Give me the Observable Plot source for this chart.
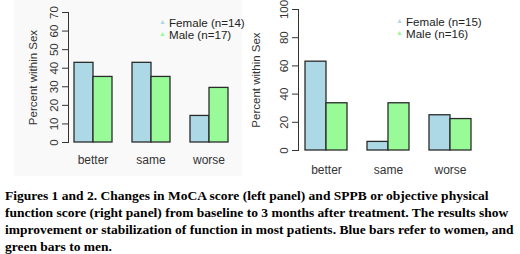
<!DOCTYPE html>
<html>
<head>
<meta charset="utf-8">
<script src="https://cdn.jsdelivr.net/npm/d3@7"></script>
<script src="https://cdn.jsdelivr.net/npm/@observablehq/plot@0.6"></script>
<style>
  html, body { margin: 0; padding: 0; background: #fff; }
  #wrap { position: relative; width: 520px; height: 254px; overflow: hidden; background: #fff; }
  #left { position: absolute; left: 0; top: 0; }
  #right { position: absolute; left: 250px; top: 0; }
  #leftbg { position: absolute; left: 14px; top: 0; width: 228px; height: 176px; background: #f9f9f9; }
  .leg { position: absolute; font-family: "Liberation Sans", Arial, sans-serif; font-size: 11.6px; color: #222; line-height: 11px; white-space: nowrap; }
  .tri { position: absolute; font-size: 7px; line-height: 7px; }
  #caption { position: absolute; left: 5px; top: 187px; width: 515px; font-family: "Liberation Serif", "Times New Roman", serif; font-weight: bold; font-size: 13.5px; line-height: 17px; color: #000; white-space: nowrap; }
</style>
</head>
<body>
<div id="wrap">
  <div id="leftbg"></div>
  <div id="left"></div>
  <div id="right"></div>
  <div id="caption"></div>
</div>
<script>
// ---- data ----
const categories = ["better", "same", "worse"];
const sexes = ["Female", "Male"];
const legendLeft = ["Female (n=14)", "Male (n=17)"];
const legendRight = ["Female (n=15)", "Male (n=16)"];
const mocaFemale = [42.9, 42.9, 14.3];
const mocaMale = [35.3, 35.3, 29.4];
const sppbFemale = [63, 6.1, 25];
const sppbMale = [33.5, 33.5, 22.3];
const ticksLeft = [0, 10, 20, 30, 40, 50, 60, 70];
const ticksRight = [0, 20, 40, 60, 80, 100];
const yLabel = "Percent within Sex";
const captionLines = [
  "Figures 1 and 2. Changes in MoCA score (left panel) and SPPB or objective physical",
  "function score (right panel) from baseline to 3 months after treatment. The results show",
  "improvement or stabilization of function in most patients. Blue bars refer to women, and",
  "green bars to men."
];
const colors = ["#add8e6", "#98fb98"];

function table(f, m) {
  const rows = [];
  categories.forEach((c, i) => {
    rows.push({cat: c, sex: sexes[0], value: f[i]});
    rows.push({cat: c, sex: sexes[1], value: m[i]});
  });
  return rows;
}

function panel(rows, opts) {
  return Plot.plot({
    width: opts.width,
    height: opts.height,
    marginLeft: opts.marginLeft,
    marginRight: opts.marginRight,
    marginTop: opts.marginTop,
    marginBottom: opts.marginBottom,
    style: {fontFamily: "'Liberation Sans', Arial, sans-serif", fontSize: "11px", color: "#333", background: "transparent"},
    fx: {domain: categories, paddingInner: opts.pad, paddingOuter: 0, axis: null},
    x: {domain: sexes, padding: 0, axis: null},
    y: {domain: opts.domain, axis: null},
    color: {domain: sexes, range: colors},
    marks: [
      Plot.barY(rows, {fx: "cat", x: "sex", y: "value", fill: "sex", stroke: "#2b2b2b", strokeWidth: 1.3}),
      Plot.frame({anchor: "left", facetAnchor: "left", dx: -opts.gap, stroke: "#333", y1: opts.domain[0], y2: opts.domain[1]}),
      Plot.axisY({ticks: opts.ticks, tickSize: 6, tickPadding: 5, tickRotate: -90, dx: -opts.gap, label: yLabel,
        labelAnchor: "center", labelArrow: "none", labelOffset: opts.labelOffset, fontSize: 11.5, stroke: "#333"}),
      Plot.axisFx({anchor: "bottom", tickSize: 0, tickPadding: opts.catPad, label: null, fontSize: 12, dx: 0})
    ]
  });
}

document.getElementById("left").append(panel(table(mocaFemale, mocaMale), {
  width: 250, height: 176, marginLeft: 73, marginRight: 22, marginTop: 12, marginBottom: 34,
  pad: 19 / 58, domain: [0, 70], ticks: ticksLeft, gap: 5, labelOffset: 45, catPad: 13
}));
document.getElementById("right").append(panel(table(sppbFemale, sppbMale), {
  width: 270, height: 180, marginLeft: 55, marginRight: 49, marginTop: 9, marginBottom: 30,
  pad: 20 / 62, domain: [0, 100], ticks: ticksRight, gap: 7, labelOffset: 54, catPad: 15
}));

function legend(labels, x, y) {
  const wrap = document.getElementById("wrap");
  labels.forEach((t, i) => {
    const tri = document.createElement("div");
    tri.className = "tri";
    tri.textContent = "\u25B2";
    tri.style.color = colors[i];
    tri.style.left = (x) + "px";
    tri.style.top = (y + i * 12 - 4) + "px";
    wrap.append(tri);
    const d = document.createElement("div");
    d.className = "leg";
    d.textContent = t;
    d.style.left = (x + 10) + "px";
    d.style.top = (y + i * 12 - 5.5) + "px";
    wrap.append(d);
  });
}
legend(legendLeft, 159, 22.5);
legend(legendRight, 396, 21.5);

const cap = document.getElementById("caption");
captionLines.forEach(l => { const d = document.createElement("div"); d.textContent = l; cap.append(d); });
</script>
</body>
</html>
